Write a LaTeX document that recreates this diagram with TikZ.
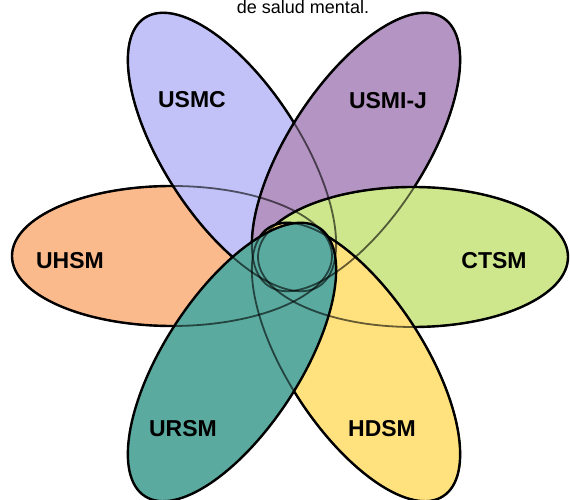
\documentclass[tikz,border=0pt]{standalone}
\usepackage{fontspec}
\setmainfont{Liberation Sans}
\definecolor{cOrange}{RGB}{250,186,140}
\definecolor{cBlue}{RGB}{194,194,248}
\definecolor{cPurple}{RGB}{180,148,194}
\definecolor{cGreen}{RGB}{206,230,140}
\definecolor{cYellow}{RGB}{255,226,126}
\definecolor{cTeal}{RGB}{90,170,160}
\tikzset{
  petal/.style={draw=black, line width=2.4pt},
  ghost/.style={draw=black, draw opacity=0.6, line width=1.8pt},
  lbl/.style={font=\fontsize{23}{23}\selectfont\bfseries, text=black, inner sep=0pt},
  ttl/.style={font=\fontsize{18}{18}\selectfont, text=black, inner sep=0pt}
}
\begin{document}
\begin{tikzpicture}[x=1pt,y=1pt]
\clip (0,0) rectangle (570,500);
\fill[white] (0,0) rectangle (570,500);
% fills with outlines, bottom to top
\path[petal, fill=cOrange] (172,244) ellipse [x radius=160, y radius=70];
\path[petal, fill=cBlue, rotate around={-57:(232,348)}] (232,348) ellipse [x radius=160, y radius=68];
\path[petal, fill=cPurple, rotate around={57:(356,348)}] (356,348) ellipse [x radius=160, y radius=68];
\path[petal, fill=cGreen] (413,243) ellipse [x radius=155, y radius=70];
\path[petal, fill=cYellow, rotate around={-57:(356,138)}] (356,138) ellipse [x radius=160, y radius=68];
\path[petal, fill=cTeal, rotate around={57:(232,138)}] (232,138) ellipse [x radius=160, y radius=68];
% outlines seen through the upper fills
\path[ghost] (172,244) ellipse [x radius=160, y radius=70];
\path[ghost, rotate around={-57:(232,348)}] (232,348) ellipse [x radius=160, y radius=68];
\path[ghost, rotate around={57:(356,348)}] (356,348) ellipse [x radius=160, y radius=68];
\path[ghost] (413,243) ellipse [x radius=155, y radius=70];
\path[ghost, rotate around={-57:(356,138)}] (356,138) ellipse [x radius=160, y radius=68];
% labels
\node[lbl] (usmc) at (192,400) {USMC};
\node[lbl] (usmij) at (388,399) {USMI-J};
\node[lbl] (uhsm) at (70,239) {UHSM};
\node[lbl] (ctsm) at (494,239) {CTSM};
\node[lbl] (ursm) at (183,71) {URSM};
\node[lbl] (hdsm) at (382,71) {HDSM};
\node[ttl, anchor=base] (title) at (303,486) {de salud mental.};
\end{tikzpicture}
\end{document}
